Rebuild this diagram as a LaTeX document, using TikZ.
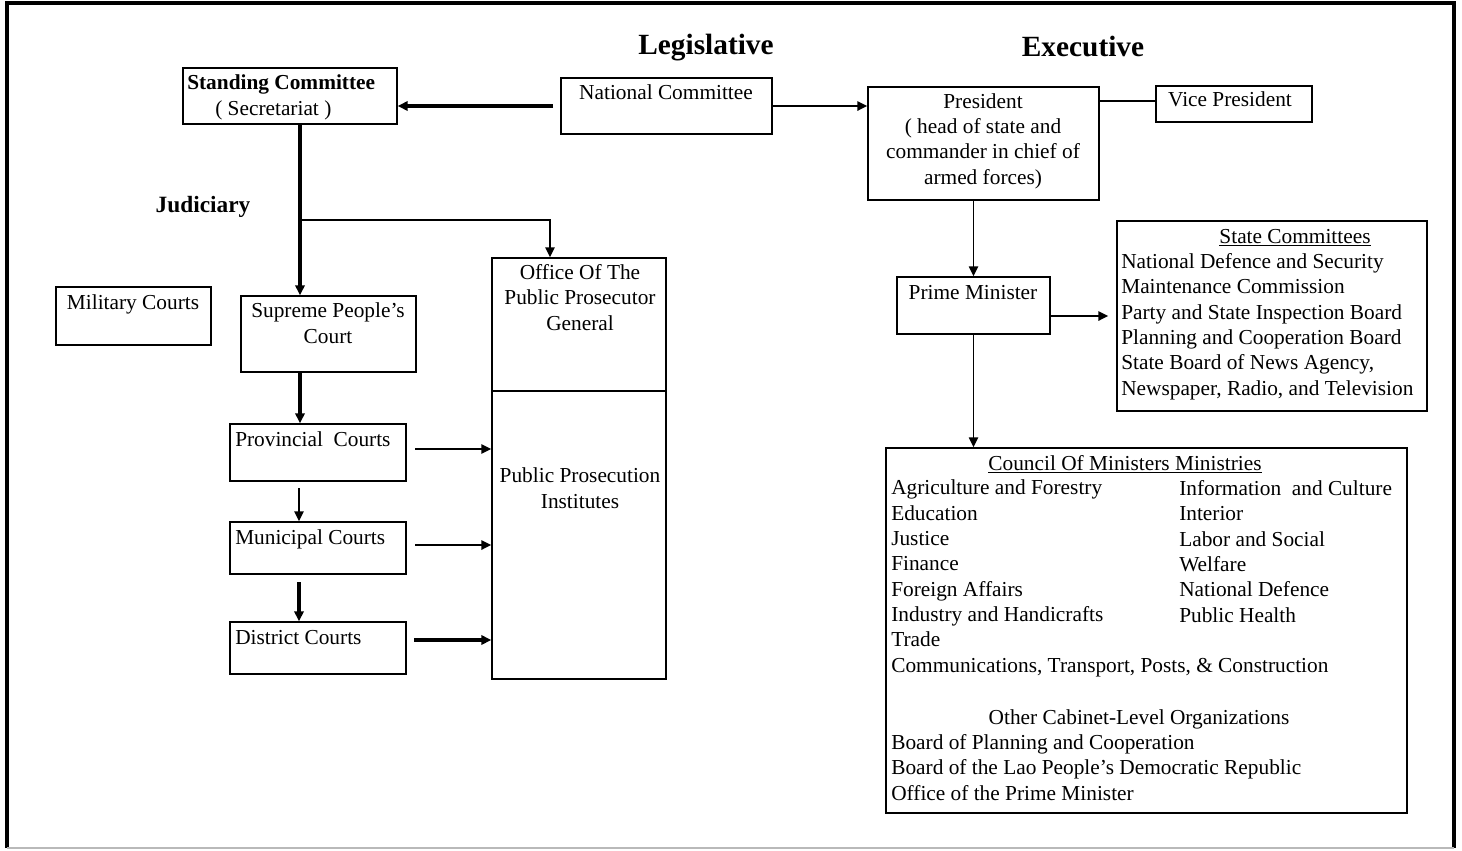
\documentclass[tikz,border=0pt]{standalone}
\usepackage{fontspec}
\setmainfont{Liberation Serif}
\usetikzlibrary{arrows.meta,fit}
\begin{document}
\begin{tikzpicture}[x=0.75pt,y=-0.75pt,
  box/.style={draw,line width=1.1pt,inner sep=0pt},
  txt/.style={inner sep=0pt,font=\fontsize{16}{19}\selectfont},
  head/.style={inner sep=0pt,font=\fontsize{22}{26}\selectfont\bfseries},
  judfont/.style={inner sep=0pt,font=\fontsize{17.5}{21}\selectfont\bfseries},
  scfont/.style={inner sep=0pt,font=\fontsize{16}{19}\selectfont\bfseries},
  tip/.style={-{Triangle[length=7.5pt,width=7pt]}},
  thin arrow/.style={tip,line width=1.1pt},
  mid arrow/.style={tip,line width=1.6pt},
  thick arrow/.style={tip,line width=2.3pt},
  link/.style={line width=1.1pt}
]
\useasboundingbox (0,0) rectangle (1462,850);
% frame
\draw[line width=2.3pt] (7,848) -- (7,3) -- (1454,3) -- (1454,848);
\draw[gray!55,line width=1pt] (7,848) -- (1454,848);

% headings
\node[head,anchor=base] (leg) at (706,54) {Legislative};
\node[head,anchor=base] (exe) at (1083,56) {Executive};
\node[judfont,anchor=base] (jud) at (203,212) {Judiciary};

% legislative / executive boxes
\node[box,fit={(183,68) (397,124)}] (sc) {};
\node[scfont,anchor=base west] (sct1) at (187,89) {Standing Committee};
\node[txt,anchor=base west] (sct2) at (215,115) {( Secretariat )};

\node[box,fit={(561,78) (772,134)}] (nc) {};
\node[txt,anchor=base] (nct) at (666,99) {National Committee};

\node[box,fit={(868,87) (1099,200)}] (pr) {};
% multi-line nodes: base anchor = baseline of last line
\node[txt,anchor=base,align=center] (prt) at (983,184) {President\\( head of state and\\commander in chief of\\armed forces)};

\node[box,fit={(1156,86) (1312,122)}] (vp) {};
\node[txt,anchor=base] (vpt) at (1230,106) {Vice President};

% judiciary
\node[box,fit={(56,287) (211,345)}] (mil) {};
\node[txt,anchor=base] (milt) at (133,309) {Military Courts};

\node[box,fit={(241,296) (416,372)}] (spc) {};
\node[txt,anchor=base,align=center] (spct) at (328,343) {Supreme People’s\\Court};

\node[box,fit={(230,424) (406,481)}] (prc) {};
\node[txt,anchor=base west] (prct) at (235,446) {Provincial\ \ Courts};

\node[box,fit={(230,522) (406,574)}] (mun) {};
\node[txt,anchor=base west] (munt) at (235,544) {Municipal Courts};

\node[box,fit={(230,622) (406,674)}] (dis) {};
\node[txt,anchor=base west] (dist) at (235,644) {District Courts};

\node[box,fit={(492,258) (666,391)}] (off) {};
\node[txt,anchor=base,align=center] (offt) at (580,330) {Office Of The\\Public Prosecutor\\General};

\node[box,fit={(492,391) (666,679)}] (ppi) {};
\node[txt,anchor=base,align=center] (ppit) at (580,508) {Public Prosecution\\Institutes};

% executive lower
\node[box,fit={(897,277) (1050,334)}] (pm) {};
\node[txt,anchor=base] (pmt) at (973,299) {Prime Minister};

\node[box,fit={(1117,221) (1427,411)}] (st) {};
\node[txt,anchor=base] (stt) at (1295,243) {\underline{State Committees}};
\node[txt,anchor=base west,align=left] (stl) at (1121,395) {National Defence and Security\\Maintenance Commission\\Party and State Inspection Board\\Planning and Cooperation Board\\State Board of News Agency,\\Newspaper, Radio, and Television};

\node[box,fit={(886,448) (1407,813)}] (co) {};
\node[txt,anchor=base] (cot) at (1125,470) {\underline{Council Of Ministers Ministries}};
\node[txt,anchor=base west,align=left] (col) at (891,672) {Agriculture and Forestry\\Education\\Justice\\Finance\\Foreign Affairs\\Industry and Handicrafts\\Trade\\Communications, Transport, Posts, \& Construction};
\node[txt,anchor=base west,align=left] (cor) at (1179,622) {Information\ \ and Culture\\Interior\\Labor and Social\\Welfare\\National Defence\\Public Health};
\node[txt,anchor=base] (oth) at (1139,724) {Other Cabinet-Level Organizations};
\node[txt,anchor=base west,align=left] (othl) at (891,800) {Board of Planning and Cooperation\\Board of the Lao People’s Democratic Republic\\Office of the Prime Minister};

% connectors
\coordinate (a1) at (553,106);
\draw[thick arrow] (a1) -- (a1 -| sc.east);
\draw[mid arrow] (nc.east) -- (nc.east -| pr.west);
\coordinate (pv) at (1099,101);
\draw[link] (pv) -- (pv -| vp.west);

\coordinate (br) at (300,220);
\coordinate (br2) at (550,220);
\draw[thick arrow] (sc.south -| br) -- (br |- spc.north);
\draw[thin arrow] (br) -- (br2) -- (br2 |- off.north);
\draw[thick arrow] (spc.south -| br) -- (br |- prc.north);
\coordinate (pm1) at (299,488);
\draw[thin arrow] (pm1) -- (pm1 |- mun.north);
\coordinate (md1) at (299,582);
\draw[thick arrow] (md1) -- (md1 |- dis.north);

\coordinate (c1) at (415,449);
\coordinate (c2) at (415,545);
\coordinate (c3) at (414,640);
\draw[thin arrow] (c1) -- (c1 -| ppi.west);
\draw[mid arrow] (c2) -- (c2 -| ppi.west);
\draw[thick arrow] (c3) -- (c3 -| ppi.west);

\draw[thin arrow] (pm.north |- pr.south) -- (pm.north);
\coordinate (ps) at (1050,316);
\draw[mid arrow,shorten >=6pt] (ps) -- (ps -| st.west);
\draw[thin arrow] (pm.south) -- (pm.south |- co.north);
\end{tikzpicture}
\end{document}
